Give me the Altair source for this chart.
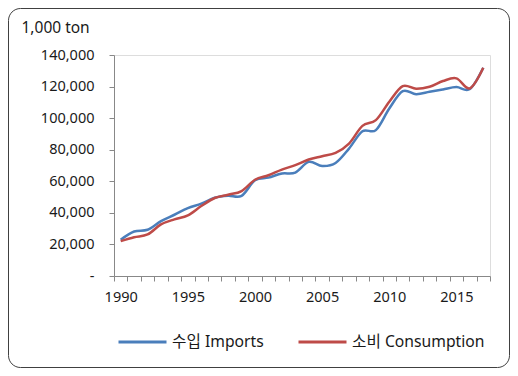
import altair as alt
import pandas as pd

years = list(range(1990, 2018))
imports = [23000, 28200, 29300, 34800, 38800, 43000, 45800, 49600, 50900, 50800,
           60600, 62300, 64900, 65500, 72300, 69700, 71600, 80700, 91700, 92400,
           106100, 117100, 115200, 116700, 118200, 119700, 118400, 131900]
consumption = [22100, 24600, 26300, 32700, 35900, 38400, 44300, 49400, 51500, 53800,
               61000, 63800, 67400, 70200, 73800, 75900, 78000, 83900, 95100, 98700,
               110400, 120300, 118600, 119900, 123500, 125200, 118900, 131900]
series_names = ["수입 Imports", "소비 Consumption"]
series_colors = ["#4A7EBB", "#BE4B48"]
y_ticks = [0, 20000, 40000, 60000, 80000, 100000, 120000, 140000]
x_tick_edges = [y - 0.5 for y in years] + [years[-1] + 0.5]

rows = []
for yr, v in zip(years, imports):
    rows.append({"year": yr, "value": v, "series": series_names[0]})
for yr, v in zip(years, consumption):
    rows.append({"year": yr, "value": v, "series": series_names[1]})
df = pd.DataFrame(rows)

FONT = "Noto Sans, Noto Sans CJK KR"
W, H = 376, 221
PL, PT, PR, PB = 106, 47, 20, 92

lines = alt.Chart(df).mark_line(interpolate="cardinal", strokeWidth=2.5).encode(
    x=alt.X("year:Q",
            scale=alt.Scale(domain=[years[0] - 0.5, years[-1] + 0.5], nice=False, zero=False),
            axis=alt.Axis(values=x_tick_edges, title=None, grid=False,
                          labelExpr="(datum.value + 0.5) % 5 == 0 ? toString(datum.value + 0.5) : ''",
                          labelOffset=6.7, labelOverlap=False, labelFlush=False, labelBound=False,
                          tickSize=5, labelPadding=9, domainColor="#888888", tickColor="#888888",
                          labelFont=FONT, labelFontSize=14.5, labelColor="#1a1a1a")),
    y=alt.Y("value:Q",
            scale=alt.Scale(domain=[0, 140000], nice=False),
            axis=alt.Axis(values=y_ticks, grid=False, tickSize=5, labelPadding=15,
                          labelExpr="datum.value == 0 ? '-' : format(datum.value, ',')",
                          domainColor="#888888", tickColor="#888888",
                          labelFont=FONT, labelFontSize=14.5, labelColor="#1a1a1a",
                          title="1,000 ton", titleAngle=0, titleX=-93, titleY=-23,
                          titleAlign="left", titleBaseline="alphabetic",
                          titleFont=FONT, titleFontSize=15.5, titleFontWeight="normal",
                          titleColor="#1a1a1a")),
    color=alt.Color("series:N",
                    scale=alt.Scale(domain=series_names, range=series_colors),
                    legend=alt.Legend(title=None, orient="none", direction="horizontal",
                                      legendX=3, legendY=261, symbolType="stroke",
                                      symbolSize=2304, symbolStrokeWidth=3,
                                      labelFont=FONT, labelFontSize=15.7, labelColor="#1a1a1a",
                                      columnPadding=28, labelOffset=4)),
)

border = alt.Chart(alt.Data(values=[{"a": 1}])).mark_rect(
    fill=None, fillOpacity=0, stroke="#404040", strokeWidth=1, cornerRadius=12
).encode(
    x=alt.value(-PL + 0.5), x2=alt.value(W + PR - 0.5),
    y=alt.value(-PT + 0.5), y2=alt.value(H + PB - 0.5),
)

chart = alt.layer(border, lines).properties(
    width=W, height=H,
    autosize=alt.AutoSizeParams(type="none"),
    padding={"left": PL, "top": PT, "right": PR, "bottom": PB},
).configure_view(stroke=None).configure(background="white")

chart.save("out.html", embed_options={"renderer": "svg", "actions": False})
